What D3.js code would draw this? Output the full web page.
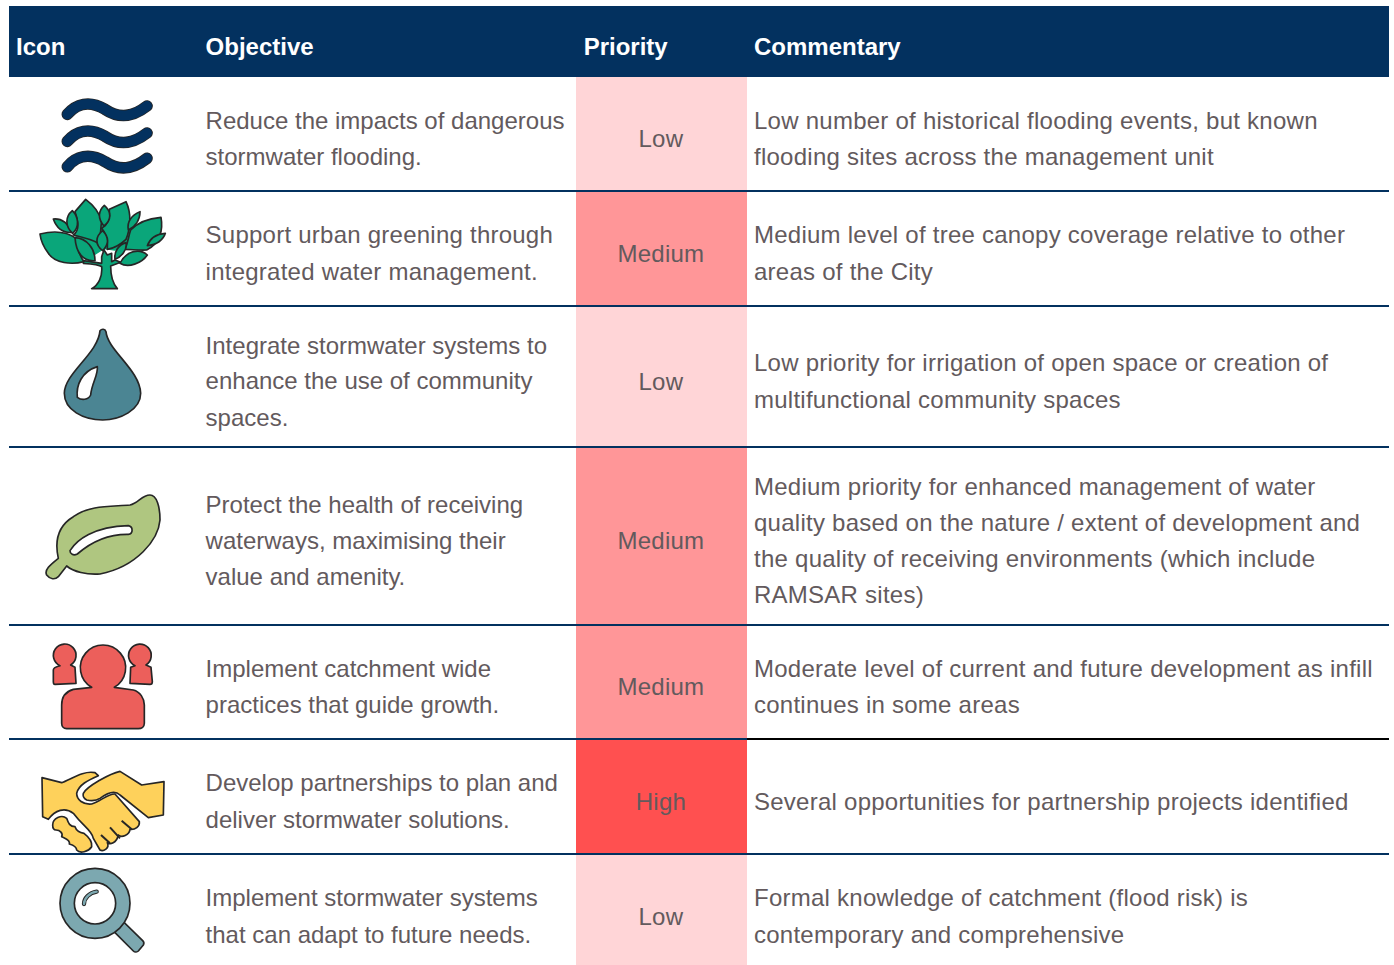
<!DOCTYPE html>
<html><head><meta charset="utf-8">
<script src="https://cdnjs.cloudflare.com/ajax/libs/d3/7.8.5/d3.min.js"></script>
<style>html,body{margin:0;padding:0;background:#fff}svg{display:block}text{font-family:"Liberation Sans",Arial,sans-serif}</style>
</head><body><svg id="c" width="1394" height="965"></svg>
<script>
const headers = ["Icon","Objective","Priority","Commentary"];
const iconNames = ["waves","tree","drop","leaf","people","hands","lens"];
const objectives = [
 ["Reduce the impacts of dangerous","stormwater flooding."],
 ["Support urban greening through","integrated water management."],
 ["Integrate stormwater systems to","enhance the use of community","spaces."],
 ["Protect the health of receiving","waterways, maximising their","value and amenity."],
 ["Implement catchment wide","practices that guide growth."],
 ["Develop partnerships to plan and","deliver stormwater solutions."],
 ["Implement stormwater systems","that can adapt to future needs."]];
const priorities = ["Low","Medium","Low","Medium","Medium","High","Low"];
const commentary = [
 ["Low number of historical flooding events, but known","flooding sites across the management unit"],
 ["Medium level of tree canopy coverage relative to other","areas of the City"],
 ["Low priority for irrigation of open space or creation of","multifunctional community spaces"],
 ["Medium priority for enhanced management of water","quality based on the nature / extent of development and","the quality of receiving environments (which include","RAMSAR sites)"],
 ["Moderate level of current and future development as infill","continues in some areas"],
 ["Several opportunities for partnership projects identified"],
 ["Formal knowledge of catchment (flood risk) is","contemporary and comprehensive"]];

// layout (row-relative text baselines, pixel-snapped like the original)
const rowHeights = [114,115,141,178,114,115,111];
const top0 = 77, left = 9, right = 1389, headTop = 6;
const colX = {icon:16, obj:205.6, pri:576, priEnd:747, com:754};
const objBase = [[52,88],[52,89],[48,83,120],[66,102,138],[52,88],[52,89],[52,89]];
const comBase = [[52,88],[52,89],[65,102],[48,84,120,156],[52,88],[71],[52,89]];
const priBase = [70,71,84,102,70,71,71];
const FS = 24, TC = "#635a5d", NAVY = "#03315f", INK = "#262626";
const color = d3.scaleOrdinal().domain(["Low","Medium","High"]).range(["#ffd5d7","#ff9698","#ff5050"]);
const tops = [top0, ...d3.cumsum(rowHeights).map(d=>d+top0)];

function strokeAll(g,ps,fill,w){
  g.selectAll("path.s").data(ps).join("path").attr("class","s").attr("d",d=>d).attr("fill",fill).attr("fill-rule","evenodd")
   .attr("stroke",INK).attr("stroke-width",w||5).attr("stroke-linejoin","round");
}
// Icon glyphs drawn in a 3x local space; `crop` is the local origin relative to the page
const icons = {
 waves:{crop:[0,0],draw(g){
   [0,81,157].forEach(dy=>{
     const p="M202,343 C228,312 268,300 315,328 C360,358 400,350 441,318";
     g.append("path").attr("d",p).attr("transform",`translate(0,${dy})`).attr("fill","none").attr("stroke",INK).attr("stroke-width",35).attr("stroke-linecap","round");
     g.append("path").attr("d",p).attr("transform",`translate(0,${dy})`).attr("fill","none").attr("stroke",NAVY).attr("stroke-width",30).attr("stroke-linecap","round");
   });}},
 tree:{crop:[0,0],draw(g){
   g.append("path").attr("d","M225,700 L300,640 L395,690 L385,745 L345,752 L312,748 L285,765 L228,722Z").attr("fill","#0aa67a");
   strokeAll(g,[
    "M275,866 L352,866 C338,850 332,820 332,798 L362,787 L345,780 L335,785 L335,760 L322,765 L312,750 L305,770 L305,790 L250,782 L250,790 C280,792 300,795 305,800 C308,830 295,855 275,866Z",
    "M120,702 C160,692 200,695 228,715 C232,745 240,770 252,785 C215,795 165,790 145,760 C130,740 122,720 120,702Z",
    "M160,657 C180,655 200,662 218,697 C190,700 170,685 160,657Z",
    "M257,598 C280,615 298,635 305,665 C300,690 305,705 295,730 C280,720 250,712 220,705 C240,690 235,665 225,635Z",
    "M378,605 C395,640 392,685 378,718 C360,735 340,745 322,748 C325,720 315,695 305,685 C330,670 330,645 328,628Z",
    "M483,652 C490,690 480,730 440,750 C420,752 395,748 375,748 C385,725 385,710 392,690 C415,665 450,655 483,652Z",
    "M217,632 C235,650 240,680 218,700 C195,680 195,650 217,632Z",
    "M313,616 C335,635 335,660 312,678 C292,655 295,632 313,616Z",
    "M420,635 C420,660 405,680 385,690 C380,665 395,645 420,635Z",
    "M496,700 C490,720 470,735 442,737 C450,715 470,702 496,700Z",
    "M308,692 C330,715 325,735 308,752 C285,735 285,710 308,692Z",
    "M225,713 C260,715 285,745 285,782 C250,785 228,760 225,713Z",
    "M378,728 C382,750 365,770 345,778 C342,755 355,735 378,728Z",
    "M360,790 C380,750 420,745 442,765 C425,790 385,805 360,790Z"],"#0aa67a",5);
 }},
 drop:{crop:[20,310],draw(g){
   strokeAll(g,["M240,62 C245,56 255,56 258,65 C262,120 360,180 362,250 C362,300 300,330 248,330 C190,330 133,300 133,250 C133,190 235,130 240,62Z M232,170 C235,195 215,220 212,255 C205,270 185,272 172,262 C168,225 185,185 232,170Z"],"#4b8593");
 }},
 leaf:{crop:[20,310],draw(g){
   strokeAll(g,["M390,555 C410,555 420,590 420,630 C415,690 350,770 240,792 C200,795 160,785 140,768 L115,800 C105,810 90,808 80,795 C72,780 90,765 115,745 C105,700 110,650 160,620 C210,585 270,590 330,585 C355,580 365,555 390,555Z M150,722 C170,690 220,650 325,647 C340,650 340,672 325,673 C270,672 220,690 172,732 C160,738 150,732 150,722Z"],"#afc680");
 }},
 people:{crop:[20,630],draw(g){
   strokeAll(g,[
    "M215,172 A68,68 0 1 1 283,172 L340,180 C360,185 373,205 373,225 L373,280 C373,290 365,296 355,296 L140,296 C130,296 125,288 125,280 L125,225 C125,205 135,185 160,178Z",
    "M120,107 A34,34 0 1 1 152,105 L165,112 L168,160 L105,163 C100,163 100,158 100,155 L100,120 C100,112 110,110 120,107Z",
    "M345,107 A34,34 0 1 1 378,105 L393,112 L397,155 C397,160 395,163 390,163 L330,160 L332,112Z"],"#ec5f5b");
 }},
 hands:{crop:[20,630],draw(g){
   strokeAll(g,[
    "M66,443 L125,458 C150,450 190,420 225,428 L235,437 C205,450 175,465 170,490 C170,510 190,525 215,522 C240,515 265,490 285,492 L358,575 C360,590 345,600 330,598 C328,615 305,625 295,615 C290,640 270,645 262,638 C270,655 250,665 240,660 L220,625 C215,600 190,590 160,550 C135,530 105,540 85,568 L68,560Z",
    "M190,490 C200,470 270,430 300,424 L365,465 L432,455 L430,555 L385,563 L300,495 C285,480 260,490 240,505 C225,515 210,512 200,510 C190,505 188,497 190,490Z",
    "M98,585 C98,565 125,552 140,565 C145,580 150,590 165,590 C170,605 180,608 192,610 C205,620 218,632 215,650 C205,665 180,672 170,660 C170,650 158,645 148,642 C152,630 135,625 125,620 C130,610 120,600 108,600 C100,600 98,592 98,585Z"],"#fed15b");
   g.selectAll("path.l").data(["M305,572 L335,598","M270,592 L300,625","M243,615 L270,640"]).join("path").attr("class","l").attr("d",d=>d).attr("fill","none").attr("stroke",INK).attr("stroke-width",6);
 }},
 lens:{crop:[20,630],draw(g){
   g.append("path").attr("d","M282,905 L340,963 C345,968 352,966 355,963 L370,945 C373,940 372,936 368,932 L310,875Z").attr("fill","#7ca8b0").attr("stroke",INK).attr("stroke-width",5);
   g.append("path").attr("fill-rule","evenodd").attr("fill","#7ca8b0").attr("stroke",INK).attr("stroke-width",5)
    .attr("d","M120,820 A105,105 0 1 1 330,820 A105,105 0 1 1 120,820Z M163,820 A62,62 0 1 0 287,820 A62,62 0 1 0 163,820Z");
   const a="M192,822 C192,805 208,788 230,785";
   g.append("path").attr("d",a).attr("fill","none").attr("stroke",INK).attr("stroke-width",13).attr("stroke-linecap","round");
   g.append("path").attr("d",a).attr("fill","none").attr("stroke","#7ca8b0").attr("stroke-width",7).attr("stroke-linecap","round");
 }}
};

const svg = d3.select("#c");
svg.append("rect").attr("x",left).attr("y",headTop).attr("width",right-left).attr("height",top0-headTop).attr("fill",NAVY);
const hx=[colX.icon,colX.obj,583.7,colX.com];
svg.selectAll("text.h").data(headers).join("text").attr("class","h").attr("x",(d,i)=>hx[i]).attr("y",55)
  .attr("font-size",FS).attr("font-weight",700).attr("fill","#fff").text(d=>d);

const row = svg.selectAll("g.row").data(priorities).join("g").attr("class","row");
row.append("rect").attr("x",colX.pri).attr("y",(d,i)=>tops[i]).attr("width",colX.priEnd-colX.pri).attr("height",(d,i)=>rowHeights[i]).attr("fill",d=>color(d));
function lines(sel,x,texts,bases,spacing){
  sel.each(function(d,i){
    d3.select(this).selectAll(null).data(texts[i]).join("text").attr("x",x)
      .attr("y",(t,k)=>tops[i]+bases[i][k])
      .attr("font-size",FS).attr("fill",TC).attr("letter-spacing",spacing(i)).text(t=>t);
  });
}
lines(row,colX.obj,objectives,objBase,i=>i===1?0.24:0);
lines(row,colX.com,commentary,comBase,()=>0.25);
row.append("text").attr("x",(colX.pri+colX.priEnd)/2-0.6).attr("y",(d,i)=>tops[i]+priBase[i]).attr("text-anchor","middle").attr("font-size",FS).attr("letter-spacing",0.25).attr("fill",TC).text(d=>d);

iconNames.forEach((n,i)=>{
  const c=icons[n].crop;
  const g=svg.append("g").attr("class","icon").attr("transform",`scale(${1/3}) translate(${c[0]*3},${c[1]*3})`);
  icons[n].draw(g);
});
svg.selectAll("line.r").data(tops.slice(1,-1)).join("line").attr("class","r").attr("x1",left).attr("x2",(d,i)=>i===4?colX.priEnd:right).attr("y1",d=>d).attr("y2",d=>d).attr("stroke",NAVY).attr("stroke-width",2);
svg.append("line").attr("class","r5").attr("x1",colX.priEnd).attr("x2",right).attr("y1",tops[5]).attr("y2",tops[5]).attr("stroke","#000").attr("stroke-width",2);
</script></body></html>
